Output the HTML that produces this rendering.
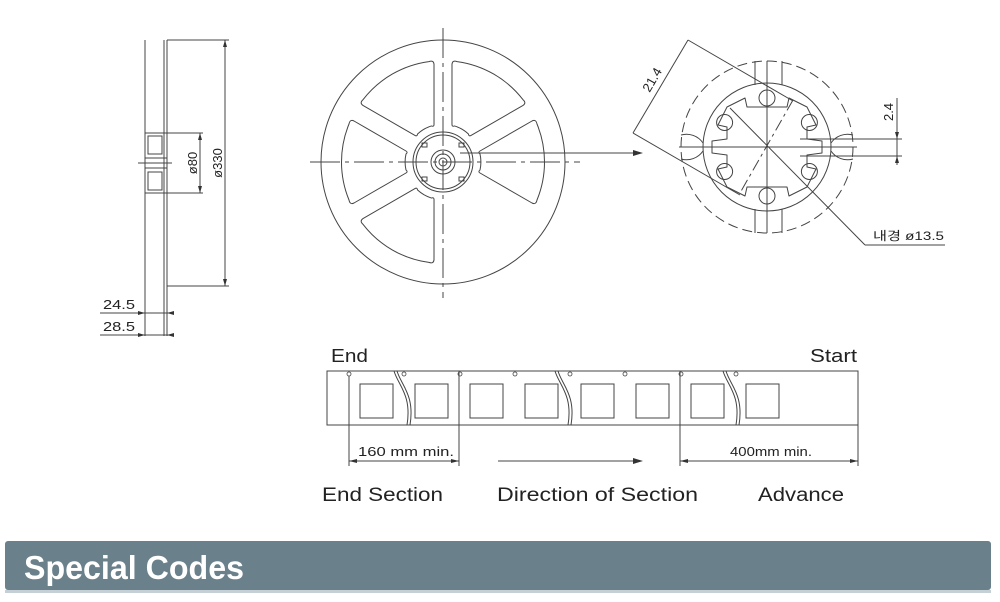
<!DOCTYPE html>
<html><head><meta charset="utf-8"><style>
html,body{margin:0;padding:0;background:#fff;width:1000px;height:602px;overflow:hidden}
svg{display:block}
text{font-family:"Liberation Sans","Noto Sans CJK KR",sans-serif;fill:#222}
</style></head><body>
<svg width="1000" height="602" viewBox="0 0 1000 602" xmlns="http://www.w3.org/2000/svg">
<g stroke="#444" stroke-width="1" fill="none">
<line x1="145" y1="40" x2="145" y2="336"/>
<line x1="164" y1="40" x2="164" y2="336"/>
<line x1="167" y1="40" x2="167" y2="336"/>
<rect x="145" y="133" width="22" height="60"/>
<rect x="148" y="136" width="14" height="18"/>
<rect x="148" y="172" width="14" height="18"/>
<line x1="145" y1="158" x2="167" y2="158"/>
<line x1="145" y1="163" x2="167" y2="163"/>
<line x1="145" y1="168" x2="167" y2="168"/>
<line x1="138" y1="163" x2="172" y2="163"/>
<line x1="167" y1="40" x2="229" y2="40"/>
<line x1="167" y1="286" x2="229" y2="286"/>
<line x1="225" y1="40" x2="225" y2="286"/>
<line x1="167" y1="133" x2="203" y2="133"/>
<line x1="167" y1="193" x2="203" y2="193"/>
<line x1="200" y1="133" x2="200" y2="193"/>
<line x1="100" y1="313" x2="171" y2="313"/>
<line x1="100" y1="335" x2="171" y2="335"/>
<circle cx="443" cy="162" r="122"/>
<g transform="translate(443,162)">
<g id="w"><path d="M37,-8 Q34.8,-9.7 37,-11 L89,-41 Q93,-43 94,-38 A100 100 0 0 1 94,38 Q93,43 89,41 L37,11 Q34.8,9.7 37,8 A36 36 0 0 0 37,-8 Z" stroke-linejoin="round"/></g>
<use href="#w" transform="rotate(180)"/>
<use href="#w" transform="rotate(-60)"/>
<use href="#w" transform="rotate(-120)"/>
<use href="#w" transform="rotate(120)"/>
<circle r="30"/><circle r="27"/><circle r="12"/><circle r="8"/><circle r="4"/>
<rect x="-21" y="-19" width="5" height="4"/><rect x="16" y="-19" width="5" height="4"/>
<rect x="-21" y="15" width="5" height="4"/><rect x="16" y="15" width="5" height="4"/>
</g>
<line x1="310" y1="162" x2="580" y2="162" stroke-dasharray="30,5,4,5"/>
<line x1="443" y1="28" x2="443" y2="298" stroke-dasharray="30,5,4,5"/>
<line x1="460" y1="153" x2="636" y2="153"/>
<circle cx="767" cy="147" r="86" stroke-dasharray="10,5"/>
<circle cx="767" cy="147" r="64"/>
<g transform="translate(767,147)">
<path d="M-40,-40 L-22,-49 L-20,-40 L20,-40 L22,-49 L40,-40 L49,-22 L40,-20 L40,-8 L55,-6 L55,6 L40,8 L40,20 L49,22 L40,40 L22,49 L20,40 L-20,40 L-22,49 L-40,40 L-49,22 L-40,20 L-40,8 L-55,6 L-55,-6 L-40,-8 L-40,-20 L-49,-22 Z" stroke-linejoin="round"/>
<circle cx="0" cy="-49" r="8"/><circle cx="0" cy="49" r="8"/>
<circle cx="-42.4" cy="-24.5" r="8"/><circle cx="42.4" cy="-24.5" r="8"/>
<circle cx="-42.4" cy="24.5" r="8"/><circle cx="42.4" cy="24.5" r="8"/>
<line x1="-88" y1="0" x2="90" y2="0"/>
<line x1="0" y1="-86" x2="0" y2="86"/>
<line x1="-12" y1="-62" x2="-12" y2="-86"/><line x1="15" y1="-62" x2="15" y2="-86"/>
<line x1="-12" y1="62" x2="-12" y2="86"/><line x1="15" y1="62" x2="15" y2="86"/>
<path d="M-86,-12 A20 20 0 0 1 -64,-4 M-86,12 A20 20 0 0 0 -64,4 M86,-12 A20 20 0 0 0 64,-4 M86,12 A20 20 0 0 1 64,4"/>
<line x1="26" y1="-47" x2="-27" y2="46" stroke-dasharray="12,4,3,4"/>
</g>
<line x1="688" y1="40" x2="793" y2="101"/>
<line x1="633" y1="133" x2="740" y2="195"/>
<line x1="688" y1="40" x2="633" y2="133"/>
<line x1="730" y1="108" x2="865" y2="245"/>
<line x1="865" y1="245" x2="945" y2="245"/>
<line x1="800" y1="139" x2="902" y2="139"/>
<line x1="800" y1="156" x2="902" y2="156"/>
<line x1="897" y1="98" x2="897" y2="165"/>
<rect x="327" y="371" width="531" height="54"/>
<rect x="360" y="384" width="33" height="34"/>
<rect x="415" y="384" width="33" height="34"/>
<rect x="470" y="384" width="33" height="34"/>
<rect x="525" y="384" width="33" height="34"/>
<rect x="581" y="384" width="33" height="34"/>
<rect x="636" y="384" width="33" height="34"/>
<rect x="691" y="384" width="33" height="34"/>
<rect x="746" y="384" width="33" height="34"/>
<g stroke-width="0.8">
<circle cx="349" cy="374" r="2"/><circle cx="404" cy="374" r="2"/><circle cx="460" cy="374" r="2"/><circle cx="515" cy="374" r="2"/>
<circle cx="570" cy="374" r="2"/><circle cx="625" cy="374" r="2"/><circle cx="681" cy="374" r="2"/><circle cx="736" cy="374" r="2"/>
</g>
<path d="M394,371 C398,385 412,395 407,425 M397,371 C401,385 415,395 410,425"/>
<path d="M555,371 C559,385 573,395 568,425 M558,371 C562,385 576,395 571,425"/>
<path d="M723,371 C727,385 741,395 736,425 M726,371 C730,385 744,395 739,425"/>
<line x1="349" y1="376" x2="349" y2="466"/>
<line x1="459" y1="371" x2="459" y2="466"/>
<line x1="680" y1="371" x2="680" y2="466"/>
<line x1="858" y1="425" x2="858" y2="466"/>
<line x1="349" y1="461" x2="459" y2="461"/>
<line x1="680" y1="461" x2="858" y2="461"/>
<line x1="498" y1="461" x2="636" y2="461"/>
</g>
<g fill="#333">
<path d="M643,153 L633,150 L633,156 Z"/>
<path d="M643,461 L633,458 L633,464 Z"/>
<path d="M349,461 L357,459 L357,463 Z"/><path d="M459,461 L451,459 L451,463 Z"/>
<path d="M680,461 L688,459 L688,463 Z"/><path d="M858,461 L850,459 L850,463 Z"/>
<path d="M225,40 L223,47 L227,47 Z"/><path d="M225,286 L223,279 L227,279 Z"/>
<path d="M200,133 L198,140 L202,140 Z"/><path d="M200,193 L198,186 L202,186 Z"/>
<path d="M145,313 L138,311 L138,315 Z"/><path d="M167,313 L174,311 L174,315 Z"/>
<path d="M145,335 L138,333 L138,337 Z"/><path d="M167,335 L174,333 L174,337 Z"/>
<path d="M897,139 L895,132 L899,132 Z"/><path d="M897,156 L895,163 L899,163 Z"/>
</g>
<g>
<text x="103" y="309" font-size="13" textLength="32" lengthAdjust="spacingAndGlyphs">24.5</text>
<text x="103" y="331" font-size="13" textLength="32" lengthAdjust="spacingAndGlyphs">28.5</text>
<text transform="translate(197,163) rotate(-90)" font-size="13" text-anchor="middle">ø80</text>
<text transform="translate(222,163) rotate(-90)" font-size="13" text-anchor="middle">ø330</text>
<text transform="translate(656,82) rotate(-60)" font-size="13" text-anchor="middle">21.4</text>
<text transform="translate(893,112) rotate(-90)" font-size="13" text-anchor="middle">2.4</text>
<text x="873" y="240" font-size="12" textLength="71" lengthAdjust="spacingAndGlyphs">내경 ø13.5</text>
<text x="331" y="362" font-size="18" textLength="37" lengthAdjust="spacingAndGlyphs">End</text>
<text x="810" y="362" font-size="18" textLength="47" lengthAdjust="spacingAndGlyphs">Start</text>
<text x="358" y="456" font-size="13" textLength="96" lengthAdjust="spacingAndGlyphs">160 mm min.</text>
<text x="730" y="456" font-size="13" textLength="82" lengthAdjust="spacingAndGlyphs">400mm min.</text>
<text x="322" y="501" font-size="19" textLength="121" lengthAdjust="spacingAndGlyphs">End Section</text>
<text x="497" y="501" font-size="19" textLength="201" lengthAdjust="spacingAndGlyphs">Direction of Section</text>
<text x="758" y="501" font-size="19" textLength="86" lengthAdjust="spacingAndGlyphs">Advance</text>
</g>
<rect x="5" y="541" width="986" height="49" rx="3" fill="#6a808b"/>
<rect x="5" y="590" width="986" height="3" fill="#c5d0d6"/>
<text x="24" y="579" font-size="33" font-weight="bold" textLength="220" lengthAdjust="spacingAndGlyphs" style="fill:#fff">Special Codes</text>
</svg>
</body></html>
